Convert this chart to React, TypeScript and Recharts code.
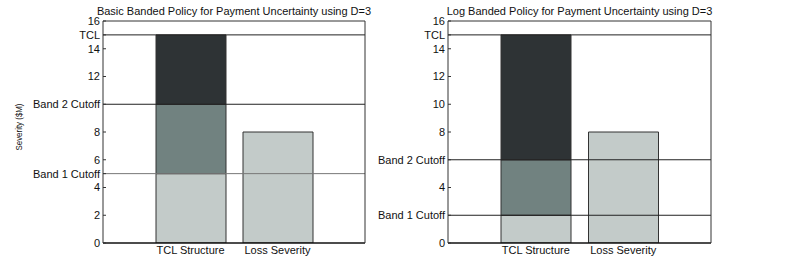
import { BarChart, Bar, XAxis, YAxis, ReferenceLine } from 'recharts'

const categories = ['TCL Structure', 'Loss Severity']

// basic banded policy: band1 0-5, band2 5-10, band3 10-15
const basicLow = [5, 8]
const basicMid = [5, 0]
const basicHigh = [5, 0]

// log banded policy: band1 0-2, band2 2-6, band3 6-15
const logLow = [2, 8]
const logMid = [4, 0]
const logHigh = [9, 0]

const tcl = 15
const basicCutoffs = [5, 10]
const logCutoffs = [2, 6]

const plainTicks = [0, 2, 4, 6, 8, 10, 12, 14, 16]

const LIGHT = '#c3cbc9'
const MID = '#718280'
const DARK = '#2e3335'
const EDGE = '#333'
const FONT = '"Liberation Sans", Arial, sans-serif'

const tickStyle = { fontSize: 11, fill: '#111', fontFamily: FONT }

function buildRows(low: number[], mid: number[], high: number[]) {
	return categories.map((name, i) => ({ name, low: low[i], mid: mid[i], high: high[i] }))
}

function buildTicks(cutoffs: number[]) {
	const all = new Set([...plainTicks, ...cutoffs, tcl])
	return Array.from(all).sort((a, b) => a - b)
}

type PanelProps = {
	title: string
	low: number[]
	mid: number[]
	high: number[]
	cutoffs: number[]
	left: number
	width: number
	yWidth: number
	rWidth: number
	band1Stroke: string
}

function Panel({ title, low, mid, high, cutoffs, left, width, yWidth, rWidth, band1Stroke }: PanelProps) {
	const rows = buildRows(low, mid, high)
	const fmt = (v: number) => {
		if (v === tcl) return 'TCL'
		if (v === cutoffs[0]) return 'Band 1 Cutoff'
		if (v === cutoffs[1]) return 'Band 2 Cutoff'
		return String(v)
	}
	// plain svg text so long labels don't wrap to the axis width
	const yTick = (props: any) => (
		<text
			x={props.x}
			y={props.y}
			dy="0.355em"
			textAnchor="end"
			fontSize={11}
			fill="#111"
			fontFamily={FONT}
		>
			{fmt(props.payload.value)}
		</text>
	)
	const plotLeft = yWidth
	const plotRight = width - rWidth
	return (
		<div style={{ position: 'absolute', left, top: 0, width, height: 273 }}>
			<div
				style={{
					position: 'absolute',
					top: 4,
					left: plotLeft - 60,
					width: plotRight - plotLeft + 120,
					textAlign: 'center',
					fontFamily: FONT,
					fontSize: 11,
					lineHeight: '14px',
					color: '#111',
					whiteSpace: 'nowrap'
				}}
			>
				{title}
			</div>
			<BarChart width={width} height={273} data={rows} margin={{ top: 0, right: 0, bottom: 0, left: 0 }} barSize={70}>
				<XAxis
					dataKey="name"
					padding={{ left: 44, right: 44 }}
					height={30}
					tickLine={false}
					tickSize={0}
					tickMargin={3}
					axisLine={{ stroke: '#111', strokeWidth: 1.3 }}
					tick={tickStyle}
					interval={0}
				/>
				<XAxis
					xAxisId="top"
					dataKey="name"
					orientation="top"
					padding={{ left: 44, right: 44 }}
					height={21}
					tick={false}
					tickSize={-3}
					tickLine={{ stroke: '#333' }}
					axisLine={{ stroke: '#333' }}
					interval={0}
				/>
				<YAxis
					domain={[0, 16]}
					ticks={buildTicks(cutoffs)}
					width={yWidth}
					tickSize={-3}
					tickMargin={6}
					tickLine={{ stroke: '#333' }}
					axisLine={{ stroke: '#333' }}
					tick={yTick}
					interval={0}
					allowDataOverflow
				/>
				<YAxis
					yAxisId="right"
					orientation="right"
					domain={[0, 16]}
					ticks={plainTicks}
					width={rWidth}
					tick={false}
					tickSize={-3}
					tickLine={{ stroke: '#333' }}
					axisLine={{ stroke: '#333' }}
					interval={0}
					allowDataOverflow
				/>
				<Bar dataKey="low" stackId="s" fill={LIGHT} stroke={EDGE} strokeWidth={1} isAnimationActive={false} />
				<Bar dataKey="mid" stackId="s" fill={MID} stroke={EDGE} strokeWidth={1} isAnimationActive={false} />
				<Bar dataKey="high" stackId="s" fill={DARK} stroke={EDGE} strokeWidth={1} isAnimationActive={false} />
				<ReferenceLine y={tcl} stroke="#222" strokeWidth={1} />
				<ReferenceLine y={cutoffs[1]} stroke="#222" strokeWidth={1} />
				<ReferenceLine y={cutoffs[0]} stroke={band1Stroke} strokeWidth={1} />
			</BarChart>
		</div>
	)
}

export default function App() {
	return (
		<div style={{ position: 'absolute', left: 0, top: 0, width: 785, height: 273, background: '#fff' }}>
			<svg width={40} height={273} style={{ position: 'absolute', left: 0, top: 0 }}>
				<text
					x={0}
					y={0}
					transform="translate(22,127) rotate(-90)"
					textAnchor="middle"
					fontFamily={FONT}
					fontSize={9.5}
					fill="#111"
					textLength={47}
					lengthAdjust="spacingAndGlyphs"
				>
					Severity ($M)
				</text>
			</svg>
			<Panel
				title="Basic Banded Policy for Payment Uncertainty using D=3"
				low={basicLow}
				mid={basicMid}
				high={basicHigh}
				cutoffs={basicCutoffs}
				left={0}
				width={390}
				yWidth={103}
				rWidth={25}
				band1Stroke="#777"
			/>
			<Panel
				title="Log Banded Policy for Payment Uncertainty using D=3"
				low={logLow}
				mid={logMid}
				high={logHigh}
				cutoffs={logCutoffs}
				left={368}
				width={417}
				yWidth={80}
				rWidth={74}
				band1Stroke="#222"
			/>
		</div>
	)
}
